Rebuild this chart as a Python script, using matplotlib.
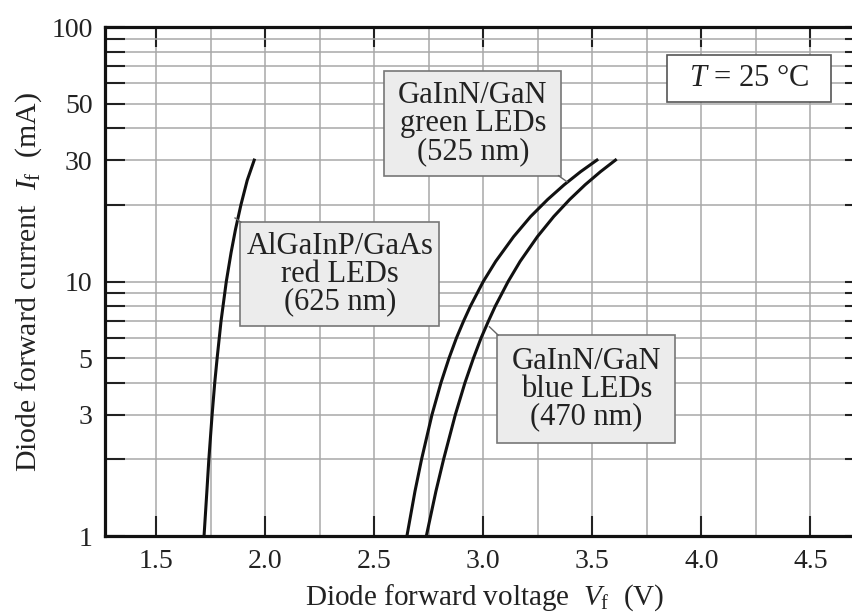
import matplotlib.pyplot as plt
from matplotlib.patches import Rectangle

plt.rcParams['font.family'] = ['Liberation Serif', 'DejaVu Serif']
plt.rcParams['mathtext.fontset'] = 'custom'
plt.rcParams['mathtext.rm'] = 'Liberation Serif'
plt.rcParams['mathtext.it'] = 'Liberation Serif:italic'

# curves (V in volts, I in mA)
red_i = [1, 1.5, 2, 3, 4, 5, 7, 10, 13, 16, 20, 25, 30]
red_v = [1.720, 1.733, 1.742, 1.757, 1.769, 1.780, 1.798, 1.822, 1.844, 1.864, 1.889, 1.918, 1.950]

green_i = [1, 1.5, 2, 3, 4, 5, 6, 7, 8, 10, 12, 15, 18, 21, 24, 27, 30]
green_v = [2.650, 2.687, 2.717, 2.765, 2.806, 2.843, 2.877, 2.910, 2.941, 3.000,
           3.057, 3.139, 3.217, 3.295, 3.371, 3.446, 3.521]

blue_i = [1, 1.5, 2, 3, 4, 5, 6, 7, 8, 10, 12, 15, 18, 21, 24, 27, 30]
blue_v = [2.739, 2.783, 2.818, 2.872, 2.916, 2.955, 2.990, 3.024, 3.055, 3.114,
          3.169, 3.248, 3.323, 3.396, 3.467, 3.537, 3.606]

x_ticks = [1.5, 2.0, 2.5, 3.0, 3.5, 4.0, 4.5]
x_grid = [1.75, 2.25, 2.75, 3.25, 3.75, 4.25, 4.75]
y_ticks = [1, 2, 3, 4, 5, 6, 7, 8, 9, 10, 20, 30, 40, 50, 60, 70, 80, 90, 100]
y_labels = ['1', '', '3', '', '5', '', '', '', '', '10', '', '30', '', '50', '', '', '', '', '100']

red_label = "AlGaInP/GaAs\nred LEDs\n(625 nm)"
green_label = "GaInN/GaN\ngreen LEDs\n(525 nm)"
blue_label = "GaInN/GaN\nblue LEDs\n(470 nm)"

fig = plt.figure(figsize=(8.53, 6.14), dpi=100)
ax = fig.add_axes([0.1231, 0.127, 0.891, 0.829])

ax.set_yscale('log')
ax.set_xlim(1.266, 4.75)
ax.set_ylim(1, 100)

ax.set_xticks(x_ticks)
ax.set_xticklabels(['%.1f' % v for v in x_ticks])
ax.set_xticks(x_grid, minor=True)
ax.set_yticks(y_ticks)
ax.set_yticklabels(y_labels)
ax.set_yticks([], minor=True)

ax.tick_params(axis='both', which='major', direction='in', length=14.5, width=1.5,
               labelsize=20, top=True, right=True, colors='#222222')
ax.tick_params(axis='x', which='major', pad=9)
ax.tick_params(axis='y', which='major', pad=9)
ax.tick_params(axis='x', which='minor', length=0)

ax.grid(True, which='both', color='#a8a8a8', linewidth=1.1)
ax.set_axisbelow(True)
for s in ax.spines.values():
    s.set_linewidth(2.3)
    s.set_color('#111111')

# curves
ax.plot(red_v, red_i, color='#111111', lw=2.2, zorder=3)
ax.plot(green_v, green_i, color='#111111', lw=2.2, zorder=3)
ax.plot(blue_v, blue_i, color='#111111', lw=2.2, zorder=3)

# label boxes (corners in data coordinates)
def label_box(x0, x1, y0, y1, text, tx, ty, line=None, fc='#ececec'):
    ax.add_patch(Rectangle((x0, y0), x1 - x0, y1 - y0, facecolor=fc,
                           edgecolor='#777777', lw=1.2, zorder=4))
    ax.text(tx, ty, text, ha='center', va='center', fontsize=22,
            linespacing=0.95, color='#222222', zorder=5)
    if line is not None:
        ax.plot(line[0], line[1], color='#666666', lw=1.0, zorder=4)

label_box(1.885, 2.798, 6.69, 17.13, red_label, 2.342, 10.7,
          line=([1.862, 1.889], [17.77, 17.1]))
label_box(2.546, 3.358, 26.05, 67.2, green_label, 2.952, 41.8,
          line=([3.345, 3.384], [26.05, 24.66]))
label_box(3.064, 3.881, 2.32, 6.16, blue_label, 3.472, 3.78,
          line=([3.028, 3.068], [6.64, 6.16]))

ax.add_patch(Rectangle((3.844, 50.7), 4.592 - 3.844, 77.6 - 50.7, facecolor='white',
                       edgecolor='#555555', lw=1.2, zorder=4))
ax.text(4.218, 62.8, "$T$ = 25 \u00b0C", ha='center', va='center', fontsize=22,
        color='#222222', zorder=5)

ax.set_xlabel("Diode forward voltage  $V_\\mathrm{f}$  (V)", fontsize=21,
              color='#222222', labelpad=6)
ax.set_ylabel("Diode forward current  $I_\\mathrm{f}$  (mA)", fontsize=21.5,
              color='#222222', labelpad=5)

fig.savefig('out.png', dpi=100)
